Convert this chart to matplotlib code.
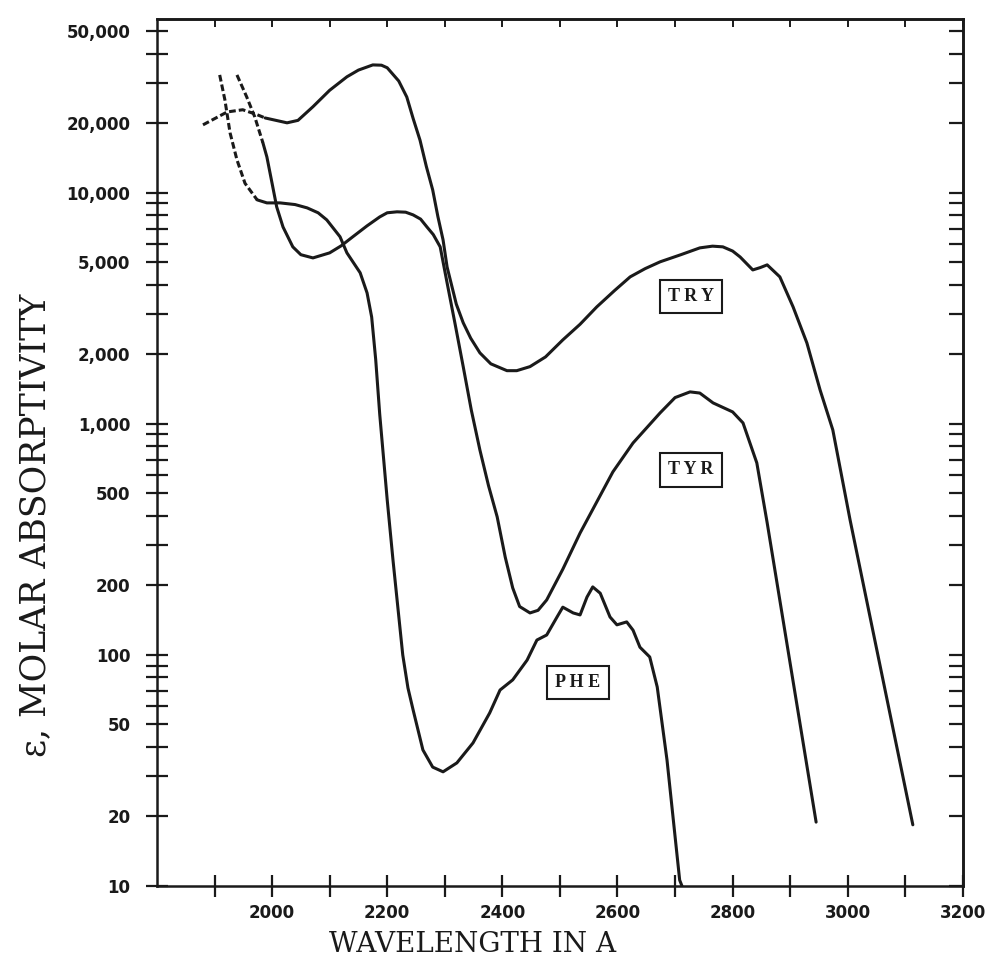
import matplotlib
matplotlib.use("Agg")
import matplotlib.pyplot as plt
from matplotlib.ticker import FixedLocator, NullFormatter

# --------------------
# Spectra (wavelength in A, molar absorptivity)
# --------------------
# tryptophan
try_dash_wl = [1880, 1922, 1949, 1974, 1988]
try_dash_eps = [19700, 22400, 22900, 21800, 21100]
try_wl = [1988, 2026, 2045, 2071, 2100, 2130, 2150, 2175, 2190, 2200, 2220, 2234,
          2245, 2257, 2268, 2279, 2288, 2297, 2304, 2320, 2332, 2345, 2361, 2380,
          2408, 2425, 2448, 2475, 2505, 2535, 2564, 2595, 2622, 2648, 2674, 2710,
          2743, 2765, 2783, 2800, 2813, 2835, 2848, 2860, 2882, 2905, 2929, 2952,
          2974, 3004, 3113]
try_eps = [21100, 20100, 20600, 23600, 27800, 31800, 34000, 35800, 35700, 34800, 30500, 26000,
           21000, 16900, 13000, 10300, 7900, 6260, 4780, 3300, 2740, 2350, 2030, 1820,
           1700, 1700, 1770, 1950, 2310, 2700, 3210, 3780, 4330, 4700, 5030, 5400,
           5780, 5880, 5840, 5600, 5280, 4640, 4750, 4880, 4330, 3210, 2240, 1400,
           942, 384, 18.4]

# tyrosine
tyr_dash_wl = [1939, 1956, 1970, 1984]
tyr_dash_eps = [32400, 26000, 21300, 16500]
tyr_wl = [1984, 1991, 2000, 2008, 2019, 2036, 2050, 2071, 2100, 2120, 2140, 2165,
          2187, 2200, 2217, 2232, 2245, 2258, 2269, 2280, 2292, 2304, 2318, 2332,
          2346, 2361, 2376, 2391, 2405, 2418, 2430, 2448, 2462, 2477, 2505, 2535,
          2570, 2592, 2627, 2674, 2700, 2726, 2743, 2766, 2800, 2818, 2842, 2860,
          2945]
tyr_eps = [16500, 14300, 11000, 8700, 7120, 5840, 5400, 5230, 5500, 5900, 6450, 7200,
           7870, 8200, 8280, 8250, 8030, 7700, 7120, 6600, 5840, 4080, 2700, 1770,
           1150, 771, 540, 396, 265, 195, 162, 152, 156, 173, 235, 337,
           490, 620, 827, 1116, 1300, 1376, 1360, 1233, 1127, 1010, 678, 373,
           18.9]

# phenylalanine
phe_dash_wl = [1909, 1918, 1927, 1939, 1953, 1974]
phe_dash_eps = [32400, 25300, 18200, 13900, 11000, 9330]
phe_wl = [1974, 1991, 2014, 2040, 2061, 2080, 2095, 2118, 2130, 2153, 2165, 2173,
          2180, 2187, 2200, 2210, 2218, 2227, 2236, 2245, 2262, 2279, 2297, 2321,
          2349, 2378, 2396, 2418, 2443, 2460, 2477, 2495, 2505, 2523, 2535, 2547,
          2557, 2570, 2587, 2599, 2616, 2627, 2639, 2656, 2669, 2686, 2708, 2712]
phe_eps = [9330, 9050, 9050, 8900, 8610, 8200, 7640, 6460, 5500, 4510, 3690, 2900,
           1900, 1100, 469, 258, 165, 100, 72, 57.8, 38.8, 32.7, 31.2, 34.1,
           41.6, 56.1, 70.5, 78, 95, 116, 122, 146, 161, 152, 149, 178,
           197, 185, 146, 135, 139, 128, 108, 98, 72.7, 35.1, 10.6, 10]

# curve labels (text, wavelength, eps)
label_names = ["TRY", "TYR", "PHE"]
label_wl = [2728, 2728, 2531]
label_eps = [3550, 632, 76]

# axis ticks
y_major = [10, 20, 50, 100, 200, 500, 1000, 2000, 5000, 10000, 20000, 50000]
y_major_labels = ["10", "20", "50", "100", "200", "500", "1,000", "2,000",
                  "5,000", "10,000", "20,000", "50,000"]
y_minor = [30, 40, 60, 70, 80, 90, 300, 400, 600, 700, 800, 900,
           3000, 4000, 6000, 7000, 8000, 9000, 30000, 40000]
x_major = [2000, 2200, 2400, 2600, 2800, 3000, 3200]
x_minor = [1900, 2100, 2300, 2500, 2700, 2900, 3100]

# --------------------
# Plot
# --------------------
ink = "#1a1a1a"
lw = 2.2

fig = plt.figure(figsize=(9.87, 9.72), dpi=100)
ax = fig.add_axes([0.159, 0.0885, 0.8166, 0.892])

for wl, eps in [(try_wl, try_eps), (tyr_wl, tyr_eps), (phe_wl, phe_eps)]:
    ax.plot(wl, eps, color=ink, lw=lw, solid_joinstyle="round", solid_capstyle="round")
for wl, eps in [(try_dash_wl, try_dash_eps), (tyr_dash_wl, tyr_dash_eps),
                (phe_dash_wl, phe_dash_eps)]:
    ax.plot(wl, eps, color=ink, lw=lw, dashes=(2.2, 1.0))

ax.set_yscale("log")
ax.set_xlim(1800, 3200)
ax.set_ylim(10, 56600)

ax.set_yticks(y_major, labels=y_major_labels)
ax.yaxis.set_minor_locator(FixedLocator(y_minor))
ax.yaxis.set_minor_formatter(NullFormatter())
ax.set_xticks(x_major, labels=[str(v) for v in x_major])
ax.set_xticks(x_minor, minor=True)

ax.tick_params(axis="both", which="both", direction="inout", length=16, width=1.6,
               color=ink, labelsize=12, labelcolor=ink)
ax.tick_params(axis="y", pad=11)
ax.tick_params(axis="x", pad=5)
for lbl in ax.get_xticklabels() + ax.get_yticklabels():
    lbl.set_fontweight("bold")
    lbl.set_family("DejaVu Sans")

for s in ax.spines.values():
    s.set_linewidth(1.8)
    s.set_color(ink)

# inward ticks along the right and top edges
right = ax.secondary_yaxis("right")
right.yaxis.set_major_locator(FixedLocator(y_major))
right.yaxis.set_minor_locator(FixedLocator(y_minor))
right.yaxis.set_major_formatter(NullFormatter())
right.yaxis.set_minor_formatter(NullFormatter())
right.tick_params(which="both", direction="in", length=10, width=1.6, color=ink)
right.spines["right"].set_linewidth(1.8)

top = ax.secondary_xaxis("top")
top.xaxis.set_major_locator(FixedLocator(x_major + x_minor))
top.xaxis.set_major_formatter(NullFormatter())
top.tick_params(which="both", direction="in", length=6, width=1.4, color=ink)
top.spines["top"].set_linewidth(1.8)

for name, x, y in zip(label_names, label_wl, label_eps):
    ax.text(x, y, " ".join(name), ha="center", va="center", fontsize=13,
            fontweight="bold", family="Liberation Serif", color=ink,
            bbox=dict(boxstyle="square,pad=0.45", fc="white", ec=ink, lw=1.5))

fig.text(0.479, 0.028, "WAVELENGTH IN A", ha="center", va="center",
         fontsize=20, family="DejaVu Serif", color=ink)
fig.text(0.036, 0.46, "\u03b5, MOLAR ABSORPTIVITY", ha="center", va="center",
         rotation=90, fontsize=25, family="DejaVu Serif", color=ink)

fig.savefig("out.png", dpi=100, facecolor="white")
